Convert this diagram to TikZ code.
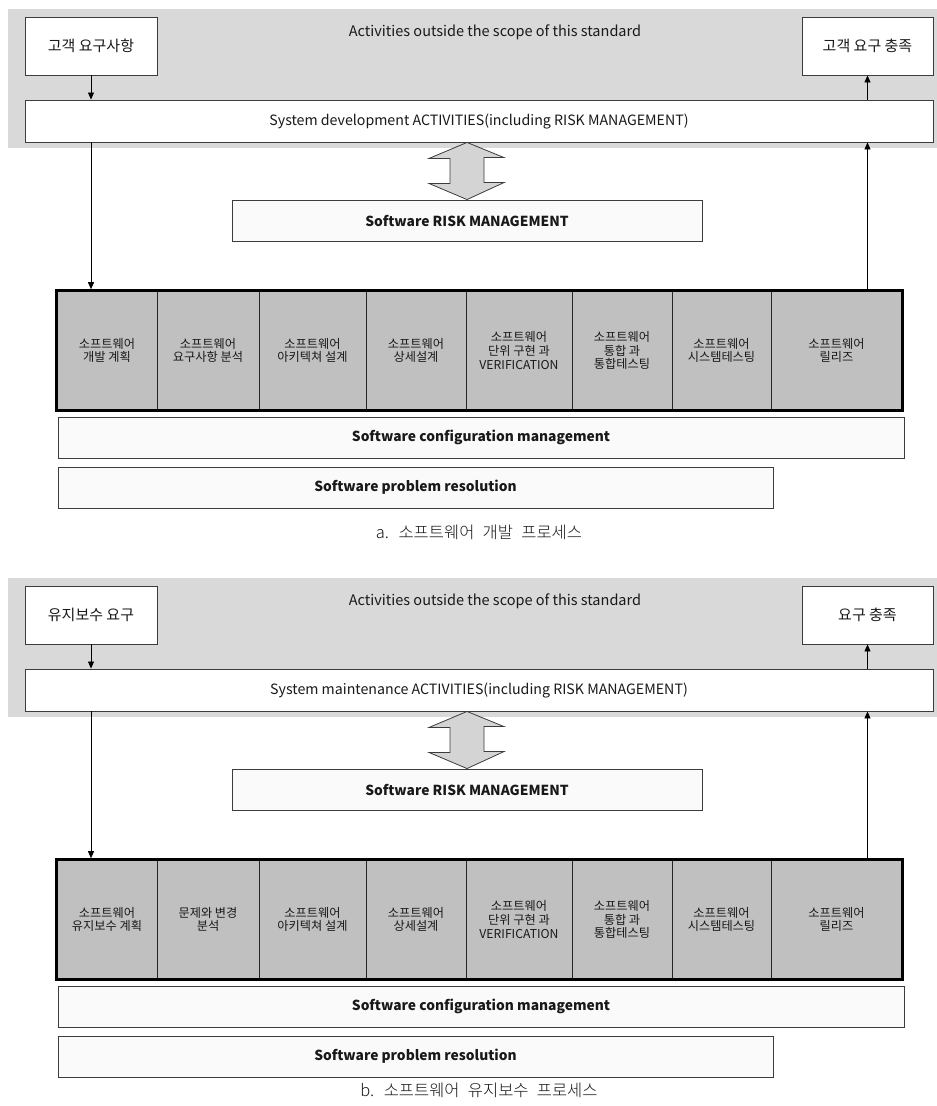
\documentclass[tikz,border=0pt]{standalone}
\usepackage{fontspec}
\setmainfont{Noto Sans CJK KR}
\newfontfamily\capfont{Noto Sans CJK KR Light}
\usetikzlibrary{arrows.meta,calc,fit}
\definecolor{bggray}{RGB}{217,217,217}
\definecolor{cellgray}{RGB}{192,192,192}
\definecolor{arrowgray}{RGB}{212,212,212}
\definecolor{boxwhite}{RGB}{250,250,250}
\definecolor{edge}{RGB}{60,60,60}
\definecolor{ink}{RGB}{25,25,25}
\newcommand{\widespaces}{\spaceskip=0.5em\relax}
\tikzset{
  plainbox/.style={draw=edge, line width=0.9pt, fill=white, inner sep=0pt, text=ink,
    font=\fontsize{15}{17}\selectfont},
  barbox/.style={draw=edge, line width=0.9pt, fill=boxwhite, inner sep=0pt, text=ink,
    font=\bfseries\fontsize{13.8}{16}\selectfont},
  cellbox/.style={draw=black!85, line width=0.8pt, fill=cellgray, inner sep=0pt,
    align=center, text=ink, font=\fontsize{12.2}{13.8}\selectfont, minimum height=119pt},
  rowframe/.style={draw=black, line width=2.8pt, inner sep=0pt},
  flow/.style={-{Triangle[length=7pt,width=6pt]}, line width=0.8pt, draw=black},
  dblarrow/.style={fill=arrowgray, draw=edge, line width=0.8pt, line join=miter},
  scopetext/.style={text=ink, font=\fontsize{14.5}{17}\selectfont, inner sep=0pt},
  captext/.style={text=ink, font=\capfont\fontsize{16.5}{18}\selectfont, inner sep=0pt,
    execute at begin node=\widespaces},
}
% One process panel: #1 name prefix, #2 vertical offset, #3 input box,
% #4 output box, #5 system activity bar, #6 and #7 the first two phases
\newcommand{\drawpanel}[7]{%
\begin{scope}[shift={(0,#2)}]
  \fill[bggray] (8,9) rectangle (937,148);
  \node[scopetext] (#1scope) at (495,32) {Activities outside the scope of this standard};
  \node[plainbox, minimum width=132pt, minimum height=58pt] (#1req) at (91,46) {#3};
  \node[plainbox, minimum width=131pt, minimum height=58pt] (#1sat) at (867.5,46) {#4};
  \node[plainbox, font=\fontsize{14.2}{16}\selectfont, minimum width=908pt, minimum height=42pt] (#1sys) at (479,121) {#5};
  \node[barbox, minimum width=470pt, minimum height=41pt] (#1risk) at (467,220.5) {Software RISK MANAGEMENT};
  \foreach \l/\r/\t [count=\i] in {57/157/{#6}, 157/259/{#7},
      259/366/{소프트웨어\\아키텍쳐 설계}, 366/466/{소프트웨어\\상세설계},
      466/572/{소프트웨어\\단위 구현 과\\VERIFICATION},
      572/672/{소프트웨어\\통합 과\\통합테스팅},
      672/771/{소프트웨어\\시스템테스팅}, 771/902/{소프트웨어\\릴리즈}}
    \node[cellbox, minimum width={(\r-\l)*1pt}] (#1c\i) at ({(\l+\r)/2},350.5) {\t};
  \node[rowframe, fit=(#1c1)(#1c8)] (#1row) {};
  \node[barbox, minimum width=846pt, minimum height=41pt] (#1cfg) at (481,437.5) {Software configuration management};
  \node[barbox, minimum width=715pt, minimum height=41pt] (#1prob) at (415.5,487.5) {Software problem resolution};
  % flow between the outside activities and the software process
  \draw[flow] (#1req.south) -- (#1req.south |- #1sys.north);
  \draw[flow] (#1req.south |- #1sys.south) -- (#1req.south |- #1row.north);
  \draw[flow] (#1sat.south |- #1row.north) -- (#1sat.south |- #1sys.south);
  \draw[flow] (#1sat.south |- #1sys.north) -- (#1sat.south);
  % two-way link between system activities and software risk management
  \coordinate (#1dt) at (#1risk.north |- #1sys.south);
  \filldraw[dblarrow] (#1dt) -- ++(-38,16) -- ++(21,0) -- ++(0,25) -- ++(-21,0)
    -- (#1risk.north) -- ++(37,-17) -- ++(-20,0) -- ++(0,-25) -- ++(20,0) -- cycle;
\end{scope}}

\begin{document}
\begin{tikzpicture}[x=1pt,y=-1pt]
  \useasboundingbox[fill=white] (0,0) rectangle (937,1106);
  \drawpanel{a}{0}{고객 요구사항}{고객 요구 충족}%
    {System development ACTIVITIES(including RISK MANAGEMENT)}%
    {소프트웨어\\개발 계획}{소프트웨어\\요구사항 분석}
  \node[captext] (capa) at (479,532) {a. 소프트웨어 개발 프로세스};
  \drawpanel{b}{569}{유지보수 요구}{요구 충족}%
    {System maintenance ACTIVITIES(including RISK MANAGEMENT)}%
    {소프트웨어\\유지보수 계획}{문제와 변경\\분석}
  \node[captext] (capb) at (479,1090) {b. 소프트웨어 유지보수 프로세스};
\end{tikzpicture}
\end{document}
